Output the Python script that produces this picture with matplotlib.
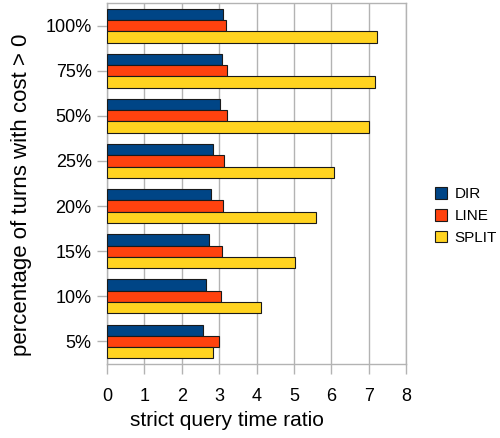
import numpy as np
import matplotlib.pyplot as plt

plt.rcParams['font.family'] = ['Liberation Sans', 'DejaVu Sans']

# Query time ratios per share of turns with cost
categories = ["5%", "10%", "15%", "20%", "25%", "50%", "75%", "100%"]
dir_vals = [2.58, 2.66, 2.74, 2.79, 2.83, 3.02, 3.09, 3.11]
line_vals = [3.01, 3.06, 3.09, 3.10, 3.14, 3.22, 3.20, 3.18]
split_vals = [2.83, 4.11, 5.03, 5.58, 6.08, 7.00, 7.16, 7.22]

series = [("DIR", dir_vals, "#004586"),
          ("LINE", line_vals, "#ff420e"),
          ("SPLIT", split_vals, "#ffd320")]

fig = plt.figure(figsize=(5, 4.38), dpi=100)
ax = fig.add_axes([0.214, 0.169, 0.598, 0.824])

y = np.arange(len(categories))
h = 0.25
for i, (name, vals, col) in enumerate(series):
    ax.barh(y + (1 - i) * h, vals, height=h, color=col, edgecolor="#1a1a1a",
            linewidth=0.8, label=name, zorder=3)

ax.set_xlim(0, 8)
ax.set_ylim(-0.5, len(categories) - 0.5)
ax.set_xticks(range(9))
ax.set_yticks(y)
ax.set_yticklabels(categories)
ax.grid(axis="x", color="#b3b3b3", linewidth=1, zorder=0)

for s in ax.spines.values():
    s.set_color("#b3b3b3")
    s.set_linewidth(1)

ax.tick_params(axis="x", length=7, width=1, color="#b3b3b3", labelsize=13, pad=10)
ax.tick_params(axis="y", length=7, width=1, color="#b3b3b3", labelsize=13, pad=4)

ax.set_xlabel("strict query time ratio", fontsize=15)
ax.set_ylabel("percentage of turns with cost > 0", fontsize=16)
ax.xaxis.set_label_coords(0.40, -0.13)
ax.yaxis.set_label_coords(-0.252, 0.468)

ax.legend(loc="center left", bbox_to_anchor=(1.075, 0.41), frameon=False,
          fontsize=11, handlelength=0.8, handleheight=0.8, handletextpad=0.5,
          labelspacing=0.5, borderaxespad=0)

fig.savefig("out.png", dpi=100)
